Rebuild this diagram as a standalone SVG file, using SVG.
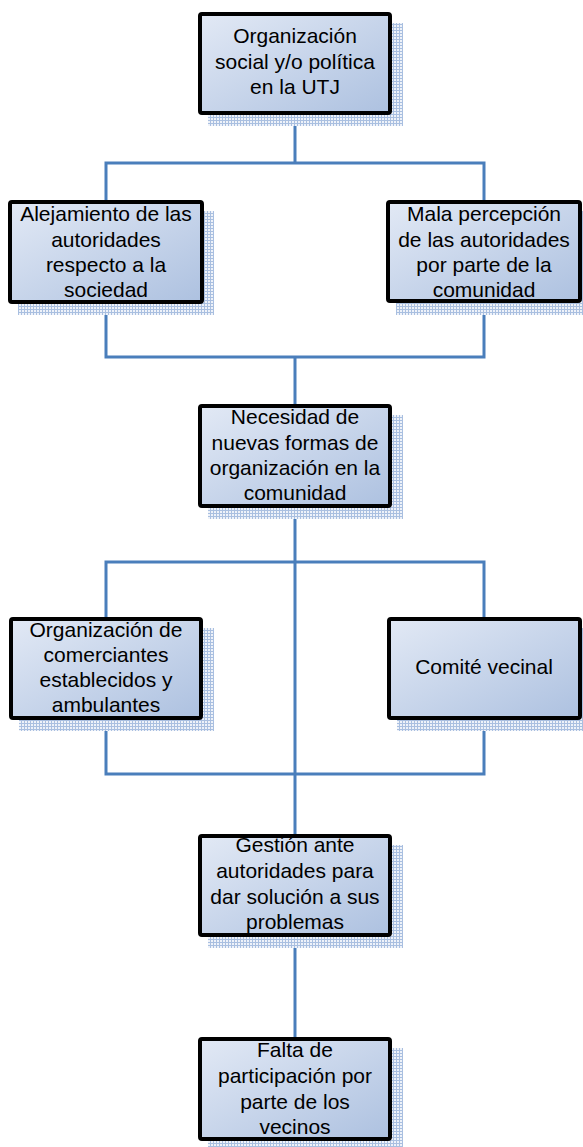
<svg xmlns="http://www.w3.org/2000/svg" width="583" height="1147" viewBox="0 0 583 1147">
<style>
.box{fill:url(#g);stroke:#000;stroke-width:4}
.sh{fill:url(#p)}
.t{font-family:"Liberation Sans",Arial,sans-serif;font-size:21px;fill:#000;text-anchor:middle}
.c{fill:none;stroke:#4a7ebb;stroke-width:3}
</style>
<defs>
<linearGradient id="g" x1="0" y1="0" x2="1" y2="1">
<stop offset="0" stop-color="#e2e9f5"/>
<stop offset="1" stop-color="#adc1e0"/>
</linearGradient>
<pattern id="p" width="3" height="3" patternUnits="userSpaceOnUse">
<rect width="3" height="3" fill="#eef2f9"/>
<rect width="3" height="1" fill="#a9bfe0"/>
<rect width="1" height="3" fill="#a9bfe0"/>
</pattern>
</defs>
<g id="connectors">
<path class="c" d="M295 113V163M106 202V163H484V202"/>
<path class="c" d="M106 302V357H484V301M295 357V406"/>
<path class="c" d="M295 506V836M106 619V562H484V619"/>
<path class="c" d="M106 718V774H484V718"/>
<path class="c" d="M295 935V1039"/>
</g>
<g id="n1">
<rect class="sh" x="208" y="23" width="195" height="103"/>
<rect class="box" x="200" y="14" width="190" height="99" rx="2"/>
<text class="t"><tspan x="295" y="43">Organización</tspan><tspan x="295" y="68.5">social y/o política</tspan><tspan x="295" y="94">en la UTJ</tspan></text>
</g>
<g id="n2">
<rect class="sh" x="18" y="211" width="196" height="104"/>
<rect class="box" x="10" y="202" width="192" height="100" rx="2"/>
<text class="t"><tspan x="106" y="221">Alejamiento de las</tspan><tspan x="106" y="247">autoridades</tspan><tspan x="106" y="272">respecto a la</tspan><tspan x="106" y="297">sociedad</tspan></text>
</g>
<g id="n3">
<rect class="sh" x="396" y="211" width="196" height="104"/>
<rect class="box" x="388" y="202" width="192" height="99" rx="2"/>
<text class="t"><tspan x="484" y="221">Mala percepción</tspan><tspan x="484" y="247">de las autoridades</tspan><tspan x="484" y="272">por parte de la</tspan><tspan x="484" y="297">comunidad</tspan></text>
</g>
<g id="n4">
<rect class="sh" x="208" y="415" width="195" height="104"/>
<rect class="box" x="200" y="406" width="190" height="100" rx="2"/>
<text class="t"><tspan x="295" y="424">Necesidad de</tspan><tspan x="295" y="450">nuevas formas de</tspan><tspan x="295" y="475">organización en la</tspan><tspan x="295" y="500">comunidad</tspan></text>
</g>
<g id="n5">
<rect class="sh" x="19" y="628" width="195" height="103"/>
<rect class="box" x="11" y="619" width="190" height="99" rx="2"/>
<text class="t"><tspan x="106" y="637">Organización de</tspan><tspan x="106" y="662">comerciantes</tspan><tspan x="106" y="687">establecidos y</tspan><tspan x="106" y="712">ambulantes</tspan></text>
</g>
<g id="n6">
<rect class="sh" x="397" y="628" width="195" height="103"/>
<rect class="box" x="389" y="619" width="191" height="99" rx="2"/>
<text class="t" x="484" y="674">Comité vecinal</text>
</g>
<g id="n7">
<rect class="sh" x="208" y="845" width="195" height="103"/>
<rect class="box" x="200" y="836" width="190" height="99" rx="2"/>
<text class="t"><tspan x="295" y="852">Gestión ante</tspan><tspan x="295" y="878">autoridades para</tspan><tspan x="295" y="904">dar solución a sus</tspan><tspan x="295" y="929">problemas</tspan></text>
</g>
<g id="n8">
<rect class="sh" x="208" y="1048" width="195" height="104"/>
<rect class="box" x="200" y="1039" width="190" height="100" rx="2"/>
<text class="t"><tspan x="295" y="1057">Falta de</tspan><tspan x="295" y="1083">participación por</tspan><tspan x="295" y="1109">parte de los</tspan><tspan x="295" y="1134">vecinos</tspan></text>
</g>
</svg>
